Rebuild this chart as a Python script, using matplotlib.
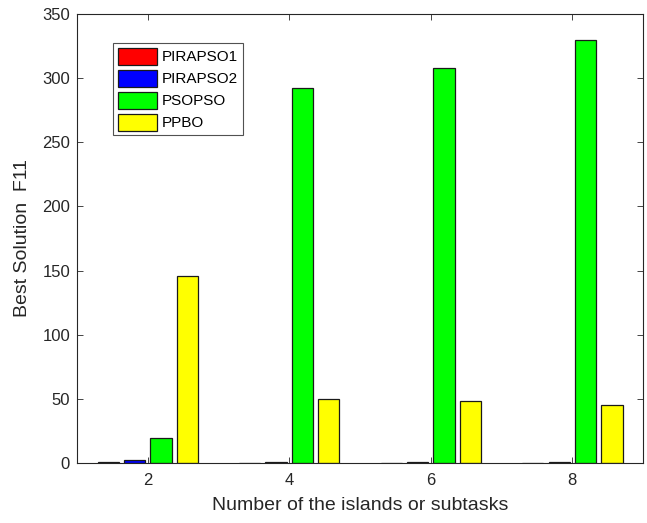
import matplotlib.pyplot as plt
import numpy as np

plt.rcParams['font.family'] = ['Liberation Sans', 'DejaVu Sans']

# Data
islands = [2, 4, 6, 8]
pirapso1 = [0.4, 0.2, 0.2, 0.2]
pirapso2 = [2.5, 0.3, 0.3, 0.3]
psopso = [19, 292, 308, 330]
ppbo = [146, 50, 48, 45]

series = [pirapso1, pirapso2, psopso, ppbo]
names = ['PIRAPSO1', 'PIRAPSO2', 'PSOPSO', 'PPBO']
colors = ['#ff0000', '#0000ff', '#00ff00', '#ffff00']

fig = plt.figure(figsize=(6.47, 5.23), dpi=100)
ax = fig.add_axes([0.119, 0.115, 0.875, 0.858])

x = np.array(islands, dtype=float)
step = 0.373
width = 0.3
for i, (vals, name, c) in enumerate(zip(series, names, colors)):
    ax.bar(x + (i - 1.5) * step, vals, width=width, color=c,
           edgecolor='#1a1a1a', linewidth=0.9, label=name)

ax.set_xlim(1, 9)
ax.set_ylim(0, 350)
ax.set_xticks(islands)
ax.set_yticks(range(0, 351, 50))

txt = '#262626'
ax.tick_params(direction='in', top=True, right=True, labelsize=12,
               colors=txt, length=4, width=0.6)
ax.tick_params(axis='x', pad=7)
ax.tick_params(axis='y', pad=5)
for s in ax.spines.values():
    s.set_color(txt)
    s.set_linewidth(0.8)

ax.set_xlabel('Number of the islands or subtasks', fontsize=14, color=txt,
              labelpad=7)
ax.set_ylabel('Best Solution  F11', fontsize=14, color=txt, labelpad=8)

leg = ax.legend(loc='upper left', bbox_to_anchor=(0.0636, 0.935),
                fontsize=11, frameon=True, fancybox=False,
                handlelength=2.6, handleheight=1.3, handletextpad=0.3,
                labelspacing=0.35, borderpad=0.3, borderaxespad=0)
leg.get_frame().set_edgecolor('#262626')
leg.get_frame().set_linewidth(0.8)

plt.savefig('out.png', dpi=100)
